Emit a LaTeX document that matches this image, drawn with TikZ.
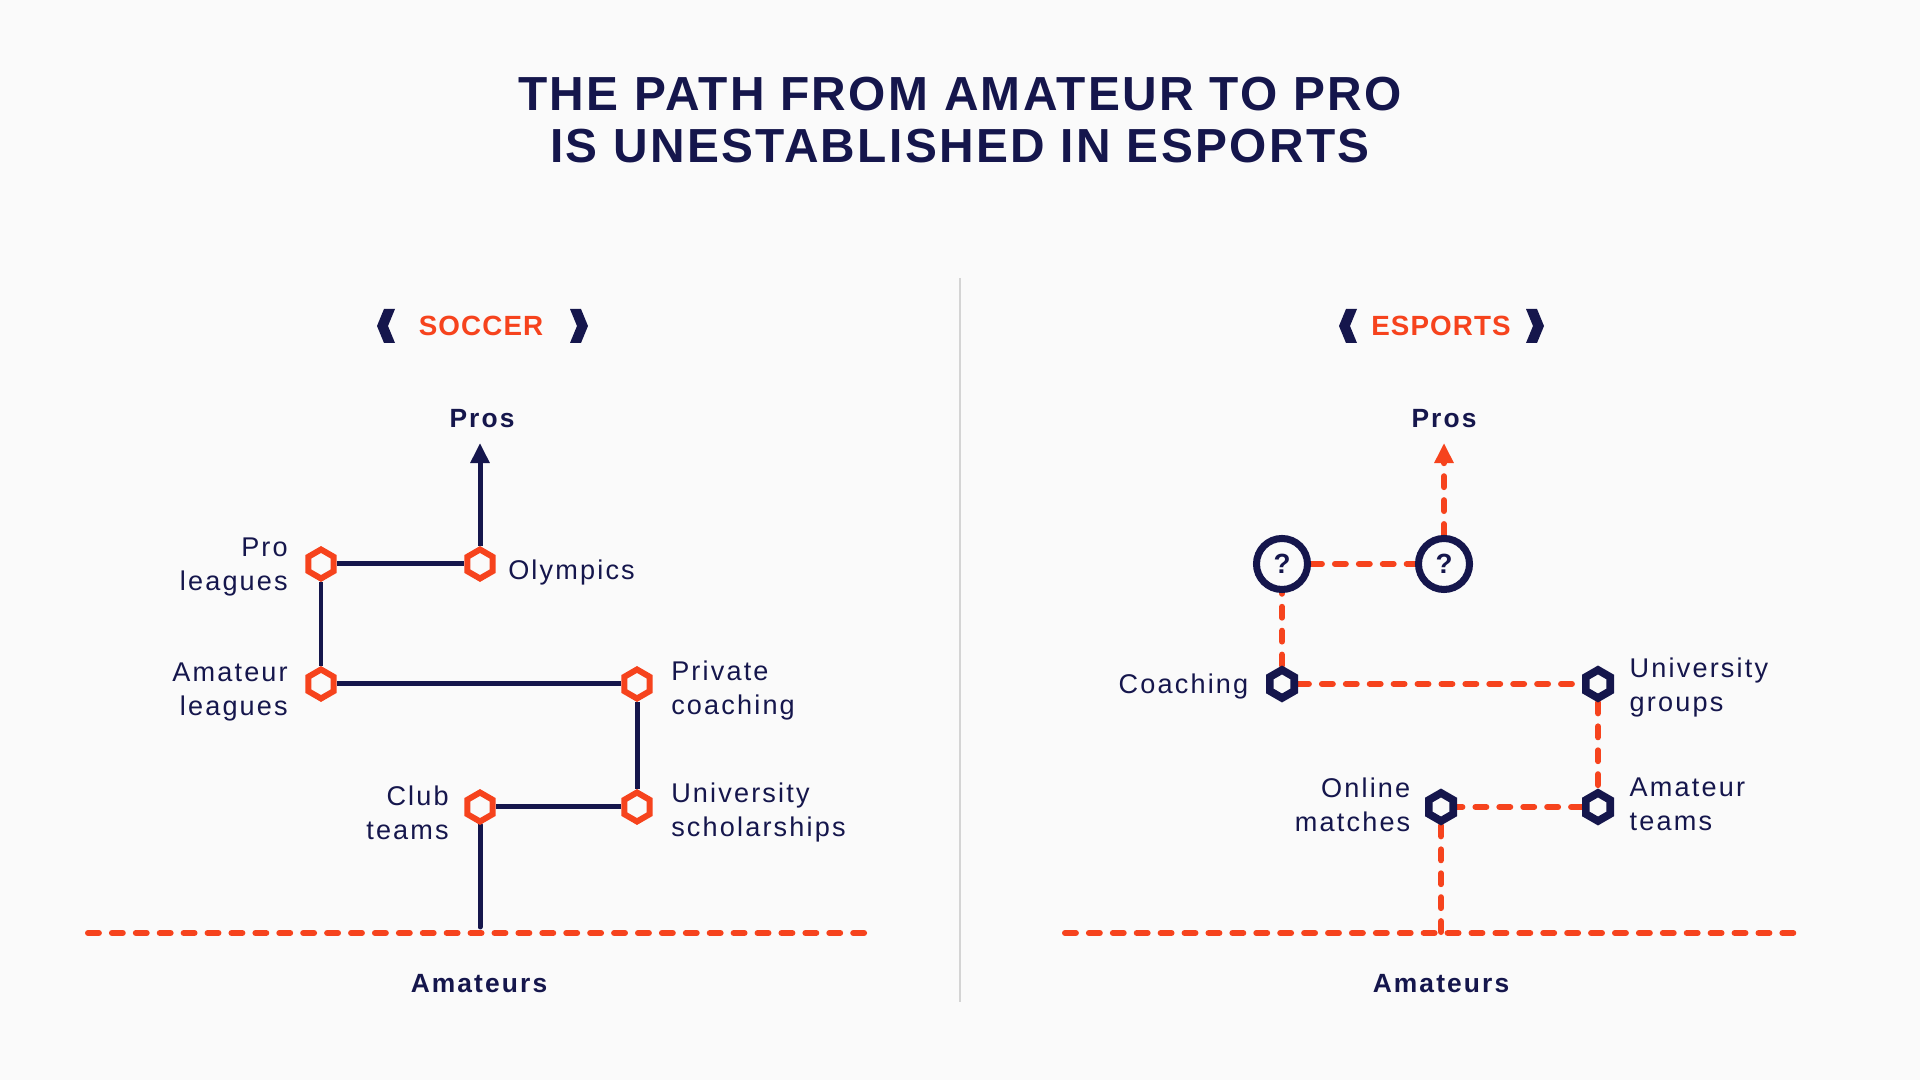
\documentclass[tikz,border=0pt]{standalone}
\usepackage{fontspec}
\setmainfont[LetterSpace=8]{Liberation Sans}
\newfontfamily\titlefont[LetterSpace=5]{Liberation Sans}
\newfontfamily\headfont[LetterSpace=4]{Liberation Sans}
\usetikzlibrary{positioning,shapes.geometric,arrows.meta,backgrounds}
\definecolor{navy}{HTML}{15164C}
\definecolor{flame}{HTML}{F6431D}
\definecolor{paper}{HTML}{FAFAFA}
\tikzset{
  hexo/.style={regular polygon, regular polygon sides=6, shape border rotate=30,
    draw=flame, fill=paper, line width=1.7pt, minimum size=0.29cm, inner sep=0pt},
  hexn/.style={hexo, draw=navy, line width=2.2pt, minimum size=0.28cm},
  qmark/.style={circle, draw=navy, fill=paper, line width=2pt, minimum size=0.51cm,
    inner sep=0pt, text=navy, font=\fontsize{7.9}{9}\selectfont\bfseries},
  lbl/.style={text=navy, inner sep=0pt, font=\fontsize{7.7}{9.7}\selectfont},
  endlbl/.style={text=navy, inner sep=0pt, font=\fontsize{7.5}{9}\selectfont\bfseries},
  headlbl/.style={text=flame, inner sep=0pt, font=\headfont\fontsize{7.9}{9}\selectfont\bfseries},
  solidpath/.style={navy, line width=1.42pt},
  dashpath/.style={flame, line width=1.7pt, line cap=round, dash pattern=on 3.1pt off 3.7pt},
  uparrow/.style={-{Triangle[length=5.7pt,width=5.2pt]}}
}
\begin{document}
\begin{tikzpicture}[x=0.01cm, y=-0.01cm]
\useasboundingbox (0,0) rectangle (1920,1080);

\node[text=navy, align=center, inner sep=0pt,
  font=\titlefont\fontsize{13.6}{14.7}\selectfont\bfseries] (title) at (960,120)
  {THE PATH FROM AMATEUR TO PRO\\IS UNESTABLISHED IN ESPORTS};

\draw[black!17, line width=0.6pt] (960,278) -- (960,1002);

% soccer
\node[headlbl] (soc) at (481,326) {SOCCER};
\fill[navy] (384,309) -- (377,326) -- (384,343) -- (395,343) -- (388,326) -- (395,309) -- cycle;
\fill[navy] (581,309) -- (588,326) -- (581,343) -- (570,343) -- (577,326) -- (570,309) -- cycle;

\node[endlbl] (spros) at (482,419) {Pros};
\node[hexo] (olym) at (480,564) {};
\node[hexo] (prol) at (321,564) {};
\node[hexo] (amal) at (321,684) {};
\node[hexo] (priv) at (637,684) {};
\node[hexo] (univ) at (637,807) {};
\node[hexo] (club) at (480,807) {};
\node[endlbl] (sam) at (479,984) {Amateurs};
\coordinate (stip) at (480,443);
\coordinate (sfoot) at (480,927);
\coordinate (sleft) at (88,933);
\coordinate (sright) at (877,933);

\node[lbl, align=right, left=0.17cm of prol, yshift=-0.9pt] (prolt) {Pro\\leagues};
\node[lbl, right=0.12cm of olym, yshift=-2.4pt] (olymt) {Olympics};
\node[lbl, align=right, left=0.17cm of amal, yshift=-2.2pt] (amalt) {Amateur\\leagues};
\node[lbl, align=left, right=0.18cm of priv, yshift=-1.9pt] (privt) {Private\\coaching};
\node[lbl, align=left, right=0.18cm of univ, yshift=-1.6pt] (univt) {University\\scholarships};
\node[lbl, align=right, left=0.15cm of club, yshift=-1.6pt] (clubt) {Club\\teams};

% esports
\node[headlbl] (esp) at (1441,326) {ESPORTS};
\fill[navy] (1346,309) -- (1339,326) -- (1346,343) -- (1357,343) -- (1350,326) -- (1357,309) -- cycle;
\fill[navy] (1537,309) -- (1544,326) -- (1537,343) -- (1526,343) -- (1533,326) -- (1526,309) -- cycle;

\node[endlbl] (epros) at (1444,419) {Pros};
\node[qmark] (qa) at (1282,564) {?};
\node[qmark] (qb) at (1444,564) {?};
\node[hexn] (coach) at (1282,684) {};
\node[hexn] (ugrp) at (1598,684) {};
\node[hexn] (ateam) at (1598,807) {};
\node[hexn] (onl) at (1441,807) {};
\node[endlbl] (eam) at (1441,984) {Amateurs};
\coordinate (etip) at (1444,443);
\coordinate (efoot) at (1441,933);
\coordinate (eleft) at (1065,933);
\coordinate (eright) at (1805,933);

\node[lbl, left=0.17cm of coach, yshift=-0.7pt] (coacht) {Coaching};
\node[lbl, align=left, right=0.15cm of ugrp, yshift=-1pt] (ugrpt) {University\\groups};
\node[lbl, align=right, left=0.14cm of onl, yshift=0.7pt] (onlt) {Online\\matches};
\node[lbl, align=left, right=0.15cm of ateam, yshift=0.7pt] (ateamt) {Amateur\\teams};

\begin{scope}[on background layer]
\fill[paper] (0,0) rectangle (1920,1080);
\draw[solidpath, uparrow] (olym) -- (stip);
\draw[solidpath] (prol) -- (olym);
\draw[solidpath] (prol) -- (amal);
\draw[solidpath] (amal) -- (priv);
\draw[solidpath] (priv) -- (univ);
\draw[solidpath] (univ) -- (club);
\draw[solidpath, line cap=round] (club) -- (sfoot);
\draw[dashpath] (sleft) -- (sright);

\draw[dashpath, uparrow] (qb) -- (etip);
\draw[dashpath] (qa) -- (qb);
\draw[dashpath] (coach) -- (qa);
\draw[dashpath] (coach) -- (ugrp);
\draw[dashpath] (ugrp) -- (ateam);
\draw[dashpath] (ateam) -- (onl);
\draw[dashpath] (onl) -- (efoot);
\draw[dashpath] (eleft) -- (eright);
\end{scope}
\end{tikzpicture}
\end{document}
